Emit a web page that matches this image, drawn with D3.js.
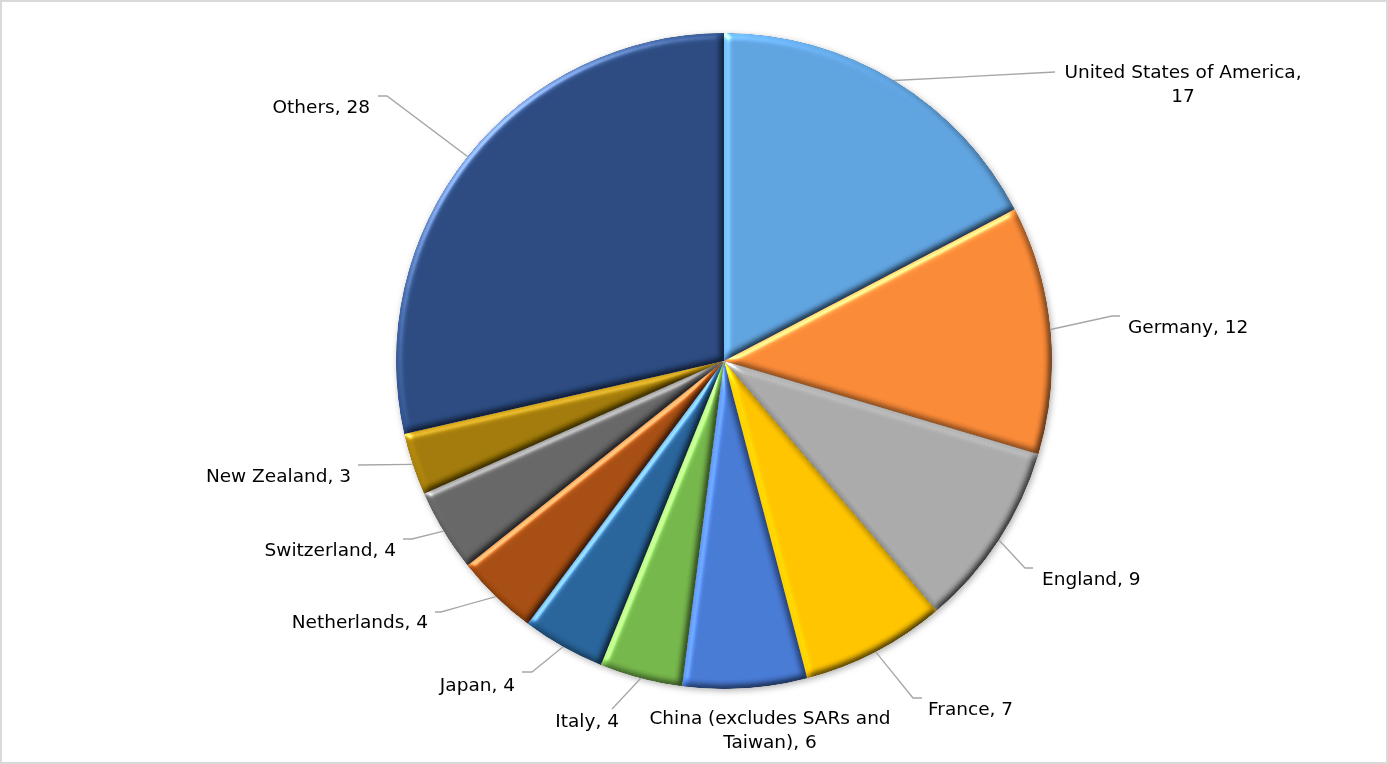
<!DOCTYPE html>
<html>
<head>
<meta charset="utf-8">
<script src="https://cdn.jsdelivr.net/npm/d3@7"></script>
<style>
  html, body { margin: 0; padding: 0; background: #fff; }
  svg { display: block; }
  text { font-family: "DejaVu Sans", Verdana, sans-serif; font-size: 18.5px; fill: #000; }
</style>
</head>
<body>
<svg id="chart" width="1388" height="764"></svg>
<script>
// ---- data ----
const categories = ["United States of America", "Germany", "England", "France",
  "China (excludes SARs and Taiwan)", "Italy", "Japan", "Netherlands",
  "Switzerland", "New Zealand", "Others"];
const values = [17, 12, 9, 7, 6, 4, 4, 4, 4, 3, 28];
const colors = ["#5fa2de", "#f98937", "#a9a9a9", "#fec300", "#4779d3", "#75b64b",
  "#286399", "#a64d11", "#656565", "#a17a06", "#2b4a80"];
// label text lines (as displayed)
const labelLines = [
  ["United States of America,", "17"],
  ["Germany, 12"], ["England, 9"], ["France, 7"],
  ["China (excludes SARs and", "Taiwan), 6"],
  ["Italy, 4"], ["Japan, 4"], ["Netherlands, 4"], ["Switzerland, 4"],
  ["New Zealand, 3"], ["Others, 28"]
];

// ---- layout (label placement, leader elbows) ----
const cx = 724, cy = 361, R = 328;
const labelLayout = [
  {x: 1183, y: 78, anchor: "middle", leader: [[1055, 72]]},
  {x: 1128, y: 333, anchor: "start", leader: [[1112, 316], [1120, 316]]},
  {x: 1042, y: 585, anchor: "start", leader: [[1025, 568], [1033, 568]]},
  {x: 928, y: 715, anchor: "start", leader: [[913, 698], [922, 698]]},
  {x: 770, y: 724, anchor: "middle", leader: null},
  {x: 619, y: 727, anchor: "end", leader: [[612, 709]]},
  {x: 515, y: 691, anchor: "end", leader: [[532, 672], [522, 672]]},
  {x: 428, y: 628, anchor: "end", leader: [[441, 612], [435, 612]]},
  {x: 396, y: 556, anchor: "end", leader: [[412, 539], [403, 539]]},
  {x: 351, y: 482, anchor: "end", leader: [[358, 465]]},
  {x: 370, y: 113, anchor: "end", leader: [[387, 96], [378, 96]]}
];

const svg = d3.select("#chart");
const defs = svg.append("defs");

// bevel filter (light from top-left)
const bevel = defs.append("filter").attr("id", "bevel")
  .attr("x", "-5%").attr("y", "-5%").attr("width", "110%").attr("height", "110%")
  .attr("color-interpolation-filters", "sRGB");
bevel.append("feGaussianBlur").attr("in", "SourceAlpha").attr("stdDeviation", 3.6).attr("result", "blur");
const dl = bevel.append("feDiffuseLighting").attr("in", "blur").attr("surfaceScale", 3)
  .attr("diffuseConstant", 1).attr("lighting-color", "#ffffff").attr("result", "diff");
dl.append("feDistantLight").attr("azimuth", 225).attr("elevation", 50);
const sl = bevel.append("feSpecularLighting").attr("in", "blur").attr("surfaceScale", 3)
  .attr("specularConstant", 0.8).attr("specularExponent", 40).attr("lighting-color", "#ffffff").attr("result", "spec");
sl.append("feDistantLight").attr("azimuth", 225).attr("elevation", 40);
bevel.append("feComposite").attr("in", "SourceGraphic").attr("in2", "diff")
  .attr("operator", "arithmetic").attr("k1", 1.305).attr("k2", 0).attr("k3", 0).attr("k4", 0).attr("result", "lit");
bevel.append("feComposite").attr("in", "spec").attr("in2", "SourceAlpha").attr("operator", "in").attr("result", "specIn");
bevel.append("feComposite").attr("in", "lit").attr("in2", "specIn")
  .attr("operator", "arithmetic").attr("k1", 0).attr("k2", 1).attr("k3", 0.55).attr("k4", 0).attr("result", "lit2");
bevel.append("feComposite").attr("in", "lit2").attr("in2", "SourceAlpha").attr("operator", "in");

const shadow = defs.append("filter").attr("id", "shadow")
  .attr("x", "-10%").attr("y", "-10%").attr("width", "120%").attr("height", "120%");
shadow.append("feDropShadow").attr("dx", 1.5).attr("dy", 2).attr("stdDeviation", 3)
  .attr("flood-color", "#000").attr("flood-opacity", 0.3);

// outer border
svg.append("rect").attr("x", 1).attr("y", 1).attr("width", 1386).attr("height", 762)
  .attr("fill", "#fff").attr("stroke", "#d9d9d9").attr("stroke-width", 2);

const data = categories.map((c, i) => ({name: c, value: values[i], i}));
const pie = d3.pie().sort(null).value(d => d.value);
const arcs = pie(data);
const arc = d3.arc().innerRadius(0).outerRadius(R);

const g = svg.append("g").attr("transform", `translate(${cx},${cy})`);
const pieG = g.append("g").attr("filter", "url(#shadow)");
pieG.selectAll("path").data(arcs).join("path")
  .attr("d", arc)
  .attr("fill", d => colors[d.data.i])
  .attr("filter", "url(#bevel)");

// leader lines
const pointOn = (a, r) => [cx + r * Math.sin(a), cy - r * Math.cos(a)];
const line = d3.line();
svg.append("g").selectAll("path")
  .data(arcs.filter(d => labelLayout[d.data.i].leader))
  .join("path")
  .attr("d", d => {
    const mid = (d.startAngle + d.endAngle) / 2;
    return line([pointOn(mid, R)].concat(labelLayout[d.data.i].leader));
  })
  .attr("fill", "none").attr("stroke", "#a6a6a6").attr("stroke-width", 1.3);

// labels
const lg = svg.append("g");
arcs.forEach(d => {
  const L = labelLayout[d.data.i];
  const t = lg.append("text").attr("x", L.x).attr("y", L.y).attr("text-anchor", L.anchor);
  labelLines[d.data.i].forEach((s, k) => {
    t.append("tspan").attr("x", L.x).attr("dy", k === 0 ? 0 : 23.5).text(s);
  });
});
</script>
</body>
</html>
